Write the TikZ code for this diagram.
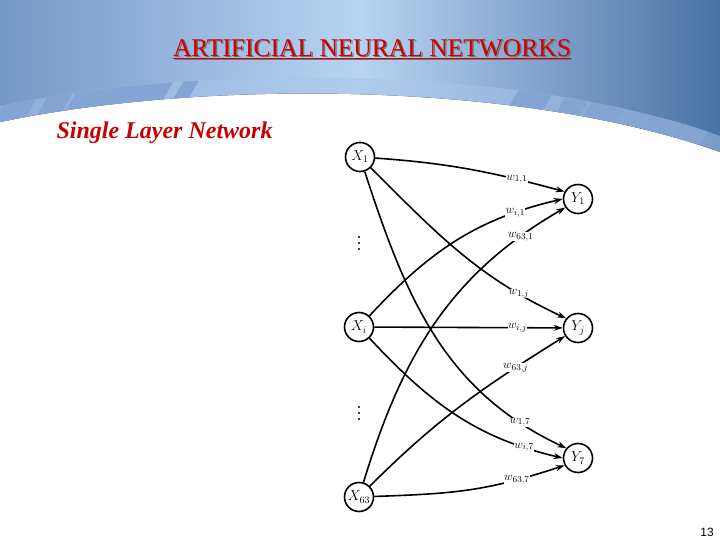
\documentclass[tikz,border=0pt]{standalone}
\usepackage{fontspec}
\setmainfont{Liberation Serif}
\newfontfamily\pagefont{Liberation Sans}
\usetikzlibrary{arrows.meta}
\definecolor{titlered}{HTML}{D00000}
\definecolor{subred}{HTML}{C80000}
\definecolor{bgL}{HTML}{7498C8}
\definecolor{bgM}{HTML}{B8D4F2}
\definecolor{bgR}{HTML}{4A72A6}
\definecolor{bandlight}{HTML}{A9C6EA}
\definecolor{stripe}{HTML}{84A5D3}
\begin{document}
\begin{tikzpicture}[x=1pt,y=1pt,
  neuron/.style={circle,draw=black,line width=1.6pt,minimum size=29pt,inner sep=0pt,fill=white,font=\fontsize{14.5}{17}\selectfont},
  conn/.style={line width=1.6pt,-{Stealth[length=9pt,width=6pt]}},
  wl/.style={fill=white,inner sep=0.4pt,font=\fontsize{12.5}{14}\selectfont},
  dot/.style={circle,fill=black,inner sep=0pt,minimum size=2.4pt}]
\useasboundingbox (0,0) rectangle (720,-540);
\fill[white] (0,0) rectangle (720,-540);
% header background
\fill[left color=bgL,right color=bgR,middle color=bgM] (0,0) -- (720,0) -- (720,-152) .. controls (520,-80) and (200,-80) .. (0,-122) -- cycle;
\begin{scope}
  \clip (0,-122) .. controls (200,-80) and (520,-80) .. (720,-152) -- (720,-136) .. controls (520,-64) and (200,-64) .. (0,-106) -- cycle;
  \fill[bandlight,opacity=0.5] (0,0) rectangle (720,-200);
  \foreach \a/\b in {0/30,40/63,66/157,167/182,507/543,558/583,587/625,667/690,693/720}
    \fill[stripe] (\a-40,-180) -- (\b-40,-180) -- (\b+40,-40) -- (\a+40,-40) -- cycle;
\end{scope}
% title
\node[text=black!55,font=\fontsize{25.5}{28}\selectfont] (titleshadow) at (373.5,-50.5) {\underline{ARTIFICIAL NEURAL NETWORKS}};
\node[text=titlered,font=\fontsize{25.5}{28}\selectfont] (title) at (372,-49) {\underline{ARTIFICIAL NEURAL NETWORKS}};
\node[text=subred,font=\fontsize{24}{28}\selectfont\bfseries\itshape,anchor=west] (subtitle) at (53,-133) {Single Layer Network};
\node[font=\pagefont\fontsize{12}{14}\selectfont] (pagenum) at (707,-532) {13};
% network
\node[neuron] (X1) at (360,-157) {$X_1$};
\node[neuron] (Xi) at (359,-327) {$X_i$};
\node[neuron] (X63) at (359,-497) {$X_{63}$};
\node[neuron] (Y1) at (578,-199) {$Y_1$};
\node[neuron] (Yj) at (578,-328) {$Y_j$};
\node[neuron] (Y7) at (578,-458) {$Y_7$};
\foreach \yy in {237,243,249,407,413,419}
  \node[dot] at (359,-\yy) {};
\draw[conn] (X1) to[out=-4,in=165] node[wl,pos=0.76] {$w_{1,1}$} (Y1.151);
\draw[conn] (X1) to[out=-45,in=155] node[wl,pos=0.8] {$w_{1,j}$} (Yj.141);
\draw[conn] (X1) to[out=-72,in=155] node[wl,pos=0.86] {$w_{1,7}$} (Y7.140);
\draw[conn] (Xi) to[out=47,in=193] node[wl,pos=0.8] {$w_{i,1}$} (Y1.180);
\draw[conn] (Xi) -- node[wl,pos=0.76] {$w_{i,j}$} (Yj);
\draw[conn] (Xi) to[out=-47,in=167] node[wl,pos=0.84] {$w_{i,7}$} (Y7.180);
\draw[conn] (X63) to[out=73,in=210] node[wl,pos=0.86] {$w_{63,1}$} (Y1.214);
\draw[conn] (X63) to[out=45,in=212] node[wl,pos=0.78] {$w_{63,j}$} (Yj.212);
\draw[conn] (X63) to[out=2,in=198,looseness=1.1] node[wl,pos=0.77] {$w_{63,7}$} (Y7.209);
\end{tikzpicture}
\end{document}
